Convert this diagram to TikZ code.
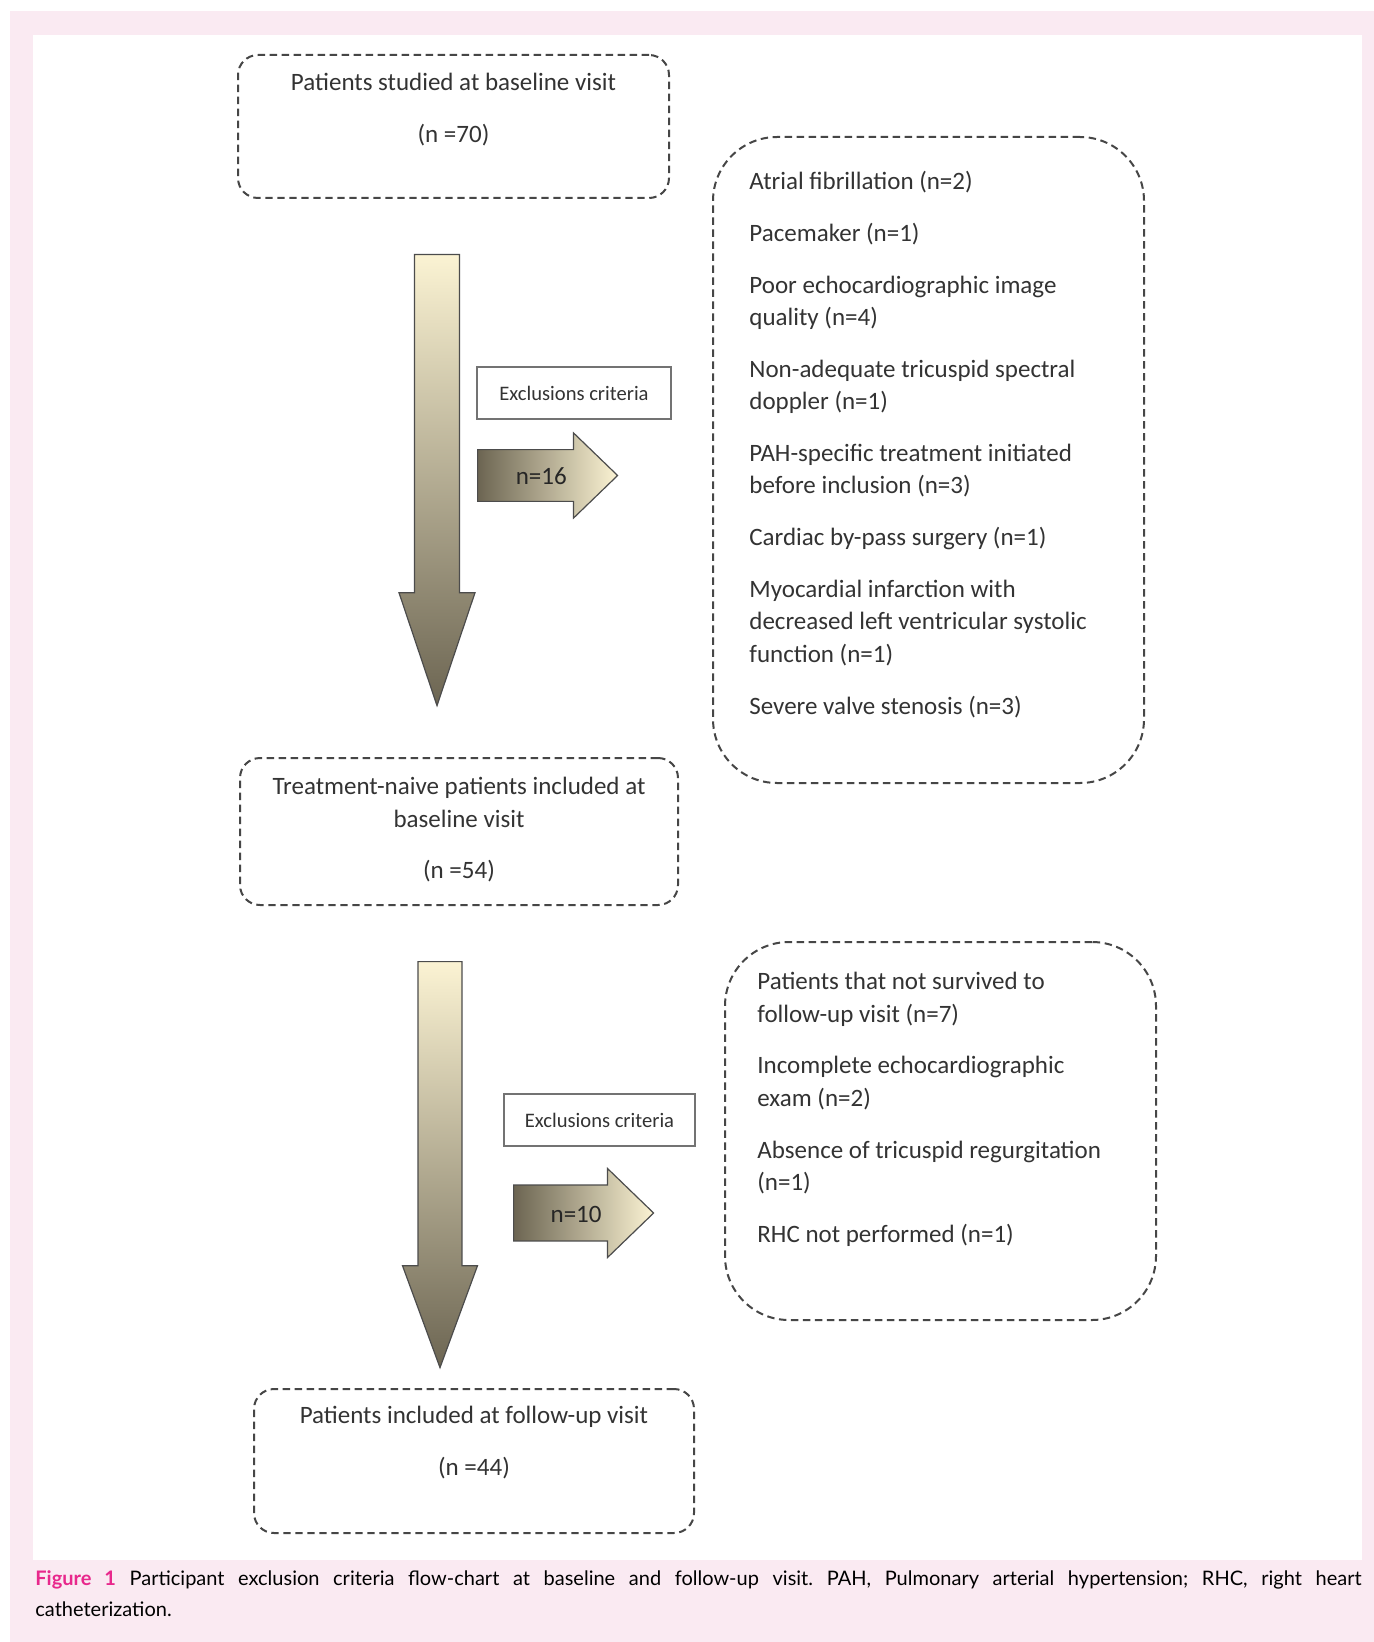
\documentclass[tikz,border=0pt]{standalone}
\usepackage{fontspec}
\setmainfont{Carlito}
\newfontfamily\captionfont{Lato}
\usetikzlibrary{shapes.arrows}

\definecolor{pagepink}{RGB}{250,234,242}
\definecolor{figpink}{RGB}{232,40,140}
\definecolor{arrowlight}{RGB}{251,243,211}
\definecolor{arrowdark}{RGB}{108,101,82}
\definecolor{inkgray}{RGB}{70,70,70}

\tikzset{
  boxfont/.style={font=\fontsize{12.5}{16.25}\selectfont, text=black!80},
  visitbox/.style={boxfont, draw=inkgray, line width=1pt, dash pattern=on 3.7pt off 2.3pt,
    rounded corners=10pt, align=center, inner xsep=4pt, inner ysep=4pt},
  critbox/.style={draw=inkgray, line width=1pt, dash pattern=on 3.7pt off 2.3pt,
    rounded corners=32pt, inner sep=0pt},
  critlist/.style={boxfont, anchor=north west, inner sep=0pt, align=left},
  exclbox/.style={draw=black!55, line width=0.6pt, minimum width=97pt, minimum height=26pt,
    inner sep=0pt, font=\fontsize{10.3}{12}\selectfont, text=black!80},
  downarrow/.style={single arrow, shape border rotate=270, anchor=tail, draw=black!70, line width=0.6pt,
    top color=arrowlight, bottom color=arrowdark, text width=0pt, text height=0pt, text depth=0pt},
  sidearrow/.style={single arrow, anchor=tail, draw=black!70, line width=0.6pt,
    left color=arrowdark, right color=arrowlight,
    single arrow tip angle=88, minimum width=42.5pt, minimum height=70pt,
    inner xsep=0pt, inner ysep=6.25pt, text height=9pt, text depth=0pt,
    boxfont, text=black!85},
}

\begin{document}
\begin{tikzpicture}[x=0.5pt, y=-0.5pt]
  \useasboundingbox (0,0) rectangle (1374,1642);
  % page and figure panel
  \fill[white] (0,0) rectangle (1374,1642);
  \fill[pagepink] (10,11) rectangle (1374,1642);
  \fill[white] (33,35) rectangle (1362,1560);

  % visits
  \node[visitbox, minimum width=215.5pt, minimum height=71.5pt, text depth=19pt] (baseline) at (453.5,126.5)
    {Patients studied at baseline visit\\[9.75pt](n =70)};
  \node[visitbox, minimum width=219pt, minimum height=73.5pt, text depth=3.3pt] (naive) at (459,831.5)
    {Treatment-naive patients included at\\baseline visit\\[9.6pt](n =54)};
  \node[visitbox, minimum width=220pt, minimum height=72pt, text depth=20.4pt] (followup) at (474,1461)
    {Patients included at follow-up visit\\[9.75pt](n =44)};

  % flow arrows
  \node[downarrow, inner sep=10pt, minimum height=225.5pt, minimum width=38pt, single arrow tip angle=37.2] (flow1) at (437,254) {};
  \node[downarrow, inner sep=9.75pt, minimum height=203pt, minimum width=37.5pt, single arrow tip angle=40.4] (flow2) at (440,961) {};

  % exclusions at baseline
  \node[exclbox] (excl1) at (574,393) {Exclusions criteria};
  \node[sidearrow] (out1) at (477,475.5) {\hspace{7pt}n=16};
  \node[critbox, minimum width=215.5pt, minimum height=323pt] (crit1) at (928.5,460) {};
  \node[critlist] (crit1list) at (749,171) {Atrial fibrillation (n=2)\\[9.6pt]
    Pacemaker (n=1)\\[9.6pt]
    Poor echocardiographic image\\quality (n=4)\\[9.6pt]
    Non-adequate tricuspid spectral\\doppler (n=1)\\[9.6pt]
    PAH-specific treatment initiated\\before inclusion (n=3)\\[9.6pt]
    Cardiac by-pass surgery (n=1)\\[9.6pt]
    Myocardial infarction with\\decreased left ventricular systolic\\function (n=1)\\[9.6pt]
    Severe valve stenosis (n=3)};

  % exclusions at follow-up
  \node[exclbox, minimum width=95.5pt] (excl2) at (599.5,1120) {Exclusions criteria};
  \node[sidearrow, minimum width=44.5pt, inner ysep=7.25pt] (out2) at (513,1213) {\hspace{7pt}n=10};
  \node[critbox, minimum width=215.5pt, minimum height=189pt] (crit2) at (940.5,1131) {};
  \node[critlist] (crit2list) at (757,972) {Patients that not survived to\\follow-up visit (n=7)\\[9.6pt]
    Incomplete echocardiographic\\exam (n=2)\\[9.6pt]
    Absence of tricuspid regurgitation\\(n=1)\\[9.6pt]
    RHC not performed (n=1)};

  % caption
  \node[anchor=north west, inner sep=0pt, text width=663pt, align=justify,
    font=\captionfont\fontsize{10}{15.5}\selectfont\frenchspacing] (caption) at (35,1570)
    {\textcolor{figpink}{\bfseries Figure 1} Participant exclusion criteria flow-chart at baseline and follow-up visit. PAH, Pulmonary arterial hypertension; RHC, right heart\linebreak catheterization.};
\end{tikzpicture}
\end{document}
